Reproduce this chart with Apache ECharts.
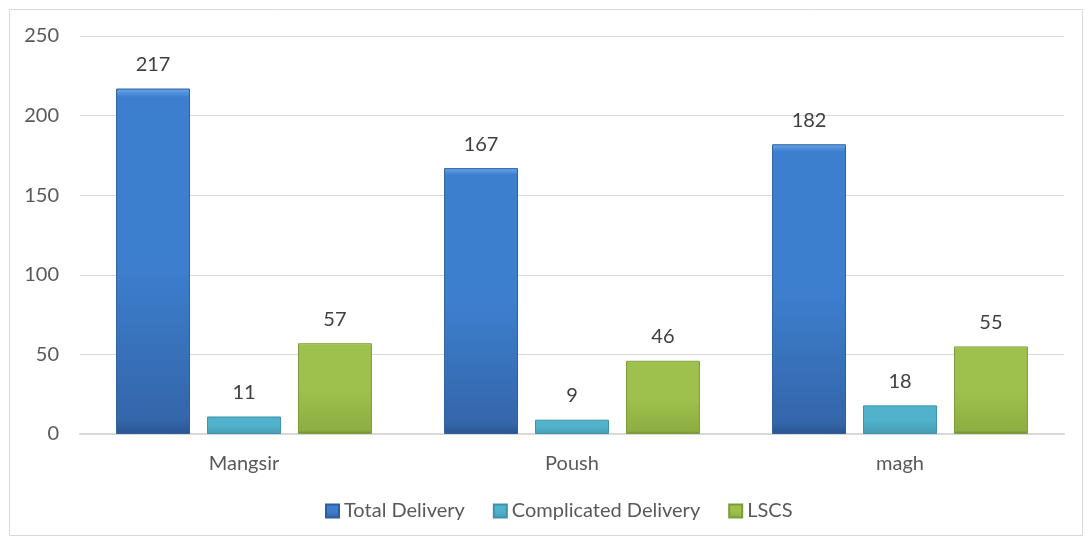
<!DOCTYPE html>
<html>
<head>
<meta charset="utf-8">
<script src="https://cdn.jsdelivr.net/npm/echarts@6/dist/echarts.min.js"></script>
<style>
  html, body { margin: 0; padding: 0; background: #fff; }
  #main { width: 1091px; height: 544px; }
</style>
</head>
<body>
<div id="main"></div>
<script>
var months = ['Mangsir', 'Poush', 'magh'];
var totalDelivery = [217, 167, 182];
var complicatedDelivery = [11, 9, 18];
var lscs = [57, 46, 55];
var yTicks = [0, 50, 100, 150, 200, 250];

var chart = echarts.init(document.getElementById('main'));

// bevel-ish look: light top edge, body, darker toward the bottom
function bevel(top, mid, low, bottom) {
	return new echarts.graphic.LinearGradient(0, 0, 0, 1, [
		{ offset: 0, color: top },
		{ offset: 0.025, color: mid },
		{ offset: 0.5, color: mid },
		{ offset: 0.96, color: low },
		{ offset: 1, color: bottom }
	]);
}

var labelStyle = {
	show: true,
	position: 'top',
	distance: 14,
	color: '#404040',
	fontSize: 20,
	fontFamily: 'Lato'
};

chart.setOption({
	animation: false,
	textStyle: { fontFamily: 'Lato' },
	graphic: [{
		type: 'rect',
		shape: { x: 9.5, y: 9.5, width: 1073, height: 526 },
		style: { fill: 'none', stroke: '#D9D9D9', lineWidth: 1 },
		silent: true
	}],
	grid: { left: 80, right: 27, top: 36, bottom: 110 },
	legend: {
		left: 320,
		bottom: 18,
		itemWidth: 13,
		itemHeight: 13,
		itemGap: 28,
		textStyle: { color: '#595959', fontSize: 20, fontFamily: 'Lato' },
		data: [
			{ name: 'Total Delivery', icon: 'rect' },
			{ name: 'Complicated Delivery', icon: 'rect' },
			{ name: 'LSCS', icon: 'rect' }
		]
	},
	xAxis: {
		type: 'category',
		data: months,
		axisLine: { lineStyle: { color: '#D9D9D9', width: 2 } },
		axisTick: { show: false },
		axisLabel: { color: '#595959', fontSize: 20, margin: 20, fontFamily: 'Lato' }
	},
	yAxis: {
		type: 'value',
		min: yTicks[0],
		max: yTicks[yTicks.length - 1],
		interval: 50,
		axisLine: { show: false },
		axisTick: { show: false },
		axisLabel: { color: '#595959', fontSize: 20, margin: 21, fontFamily: 'Lato' },
		splitLine: { lineStyle: { color: '#D9D9D9', width: 1 } }
	},
	series: [
		{
			name: 'Total Delivery',
			type: 'bar',
			data: totalDelivery,
			barGap: '23%',
			barCategoryGap: '22%',
			itemStyle: { color: bevel('#6AA6EC', '#3D7FCF', '#3466AA', '#2A5690'), borderColor: '#2E5E9C', borderWidth: 1 },
			label: labelStyle
		},
		{
			name: 'Complicated Delivery',
			type: 'bar',
			data: complicatedDelivery,
			itemStyle: { color: bevel('#8CEAF8', '#50B2CB', '#479FB6', '#3C8FA6'), borderColor: '#3D93AA', borderWidth: 1 },
			label: labelStyle
		},
		{
			name: 'LSCS',
			type: 'bar',
			data: lscs,
			itemStyle: { color: bevel('#D2EE78', '#9EC14D', '#8DAE41', '#6F8B33'), borderColor: '#7D9B3B', borderWidth: 1 },
			label: labelStyle
		}
	]
});
</script>
</body>
</html>
